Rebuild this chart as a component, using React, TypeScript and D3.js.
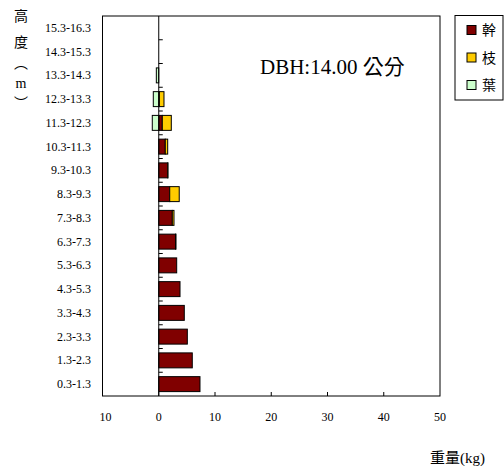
import React, { useEffect, useRef } from 'react';
import * as d3 from 'd3';

// height classes (m), bottom to top
const heights = [
  '0.3-1.3', '1.3-2.3', '2.3-3.3', '3.3-4.3', '4.3-5.3', '5.3-6.3', '6.3-7.3', '7.3-8.3',
  '8.3-9.3', '9.3-10.3', '10.3-11.3', '11.3-12.3', '12.3-13.3', '13.3-14.3', '14.3-15.3', '15.3-16.3',
];
// 幹 stem
const stem = [7.33, 5.96, 5.08, 4.54, 3.78, 3.19, 2.98, 2.41, 1.95, 1.59, 1.16, 0.63, 0.1, 0, 0, 0];
// 枝 branch
const branch = [0, 0, 0, 0, 0, 0, 0.09, 0.3, 1.69, 0.05, 0.43, 1.6, 0.83, 0, 0, 0];
// 葉 leaf (drawn to the left of zero)
const leaf = [0, 0, 0, 0, 0, 0, 0, 0, 0, 0, 0, -1.15, -0.97, -0.43, 0, 0];
const xTicks = [-10, 0, 10, 20, 30, 40, 50];

const seriesKeys = ['stem', 'branch', 'leaf'];
const seriesNames = ['幹', '枝', '葉'];
const seriesColors = ['#800000', '#FFCC00', '#CCFFCC'];

const serif = "'Liberation Serif', 'Times New Roman', 'Noto Sans CJK TC', serif";

export default function App() {
  const ref = useRef<SVGSVGElement>(null);

  useEffect(() => {
    const svg = d3.select(ref.current);
    svg.selectAll('*').remove();

    const left = 102.5, right = 440, top = 16, bottom = 396;

    const x = d3.scaleLinear().domain([-10, 50]).range([left, right]);
    const y = d3.scaleBand().domain(heights).range([bottom, top]).paddingInner(0.37).paddingOuter(0.185);
    const band = d3.scaleBand().domain(heights).range([bottom, top]);

    const rows = heights.map((h, i) => ({ h, stem: stem[i], branch: branch[i], leaf: leaf[i] }));
    const stacked = d3.stack<any>().keys(seriesKeys).offset(d3.stackOffsetDiverging)(rows);

    // plot frame
    svg.append('rect')
      .attr('x', left).attr('y', top)
      .attr('width', right - left).attr('height', bottom - top)
      .attr('fill', 'none').attr('stroke', '#000').attr('stroke-width', 1);

    // bars
    stacked.forEach((s, k) => {
      svg.append('g')
        .selectAll('rect')
        .data(s.filter(d => d[1] - d[0] !== 0))
        .enter()
        .append('rect')
        .attr('x', d => x(Math.min(d[0], d[1])))
        .attr('y', d => y(d.data.h)!)
        .attr('width', d => Math.abs(x(d[1]) - x(d[0])))
        .attr('height', y.bandwidth())
        .attr('fill', seriesColors[k])
        .attr('stroke', '#000')
        .attr('stroke-width', 1);
    });

    // zero axis with ticks at band boundaries
    const x0 = x(0);
    svg.append('line')
      .attr('x1', x0).attr('x2', x0).attr('y1', top).attr('y2', bottom)
      .attr('stroke', '#000');
    svg.append('g')
      .selectAll('line')
      .data(heights.slice(1))
      .enter()
      .append('line')
      .attr('x1', x0).attr('x2', x0 + 4)
      .attr('y1', d => band(d)! + band.bandwidth())
      .attr('y2', d => band(d)! + band.bandwidth())
      .attr('stroke', '#000');

    const txt = svg.append('g').style('font-family', serif);

    // category labels
    txt.append('g')
      .selectAll('text')
      .data(heights)
      .enter()
      .append('text')
      .attr('x', 91)
      .attr('y', d => band(d)! + band.bandwidth() / 2 + 4)
      .attr('text-anchor', 'end')
      .style('font-size', '12px')
      .text(d => d);

    // bottom ticks and labels
    svg.append('g')
      .selectAll('line')
      .data(xTicks.slice(1, -1))
      .enter()
      .append('line')
      .attr('x1', d => x(d)).attr('x2', d => x(d))
      .attr('y1', bottom).attr('y2', bottom - 4)
      .attr('stroke', '#000');
    txt.append('g')
      .selectAll('text')
      .data(xTicks)
      .enter()
      .append('text')
      .attr('x', d => x(d) + (d === -10 ? 3 : 0))
      .attr('y', 421)
      .attr('text-anchor', 'middle')
      .style('font-size', '12px')
      .text(d => String(Math.abs(d)));

    // axis titles
    txt.append('text')
      .attr('x', 485).attr('y', 463)
      .attr('text-anchor', 'end')
      .style('font-size', '15px')
      .text('重量(kg)');

    const yTitle = ['高', '度', '︵', 'm', '︶'];
    const yTitlePos = [21, 47, 68, 88, 108];
    txt.append('g')
      .selectAll('text')
      .data(yTitle)
      .enter()
      .append('text')
      .attr('x', 21)
      .attr('y', (d, i) => yTitlePos[i])
      .attr('text-anchor', 'middle')
      .style('font-size', '14px')
      .text(d => d);

    // DBH annotation
    txt.append('text')
      .attr('x', 260).attr('y', 74)
      .style('font-size', '21px')
      .text('DBH:14.00 公分');

    // legend
    const lg = svg.append('g');
    lg.append('rect')
      .attr('x', 455).attr('y', 15.5).attr('width', 48).attr('height', 84.5)
      .attr('fill', '#fff').attr('stroke', '#000');
    seriesNames.forEach((name, i) => {
      const cy = 30 + i * 27.5;
      lg.append('rect')
        .attr('x', 467).attr('y', cy - 4.5).attr('width', 9).attr('height', 9)
        .attr('fill', seriesColors[i]).attr('stroke', '#000');
      lg.append('text')
        .attr('x', 482).attr('y', cy + 5)
        .style('font-family', serif)
        .style('font-size', '14px')
        .text(name);
    });
  }, []);

  return (
    <svg
      ref={ref}
      width={504}
      height={466}
      style={{ position: 'absolute', left: 0, top: 0, background: '#fff' }}
    />
  );
}
